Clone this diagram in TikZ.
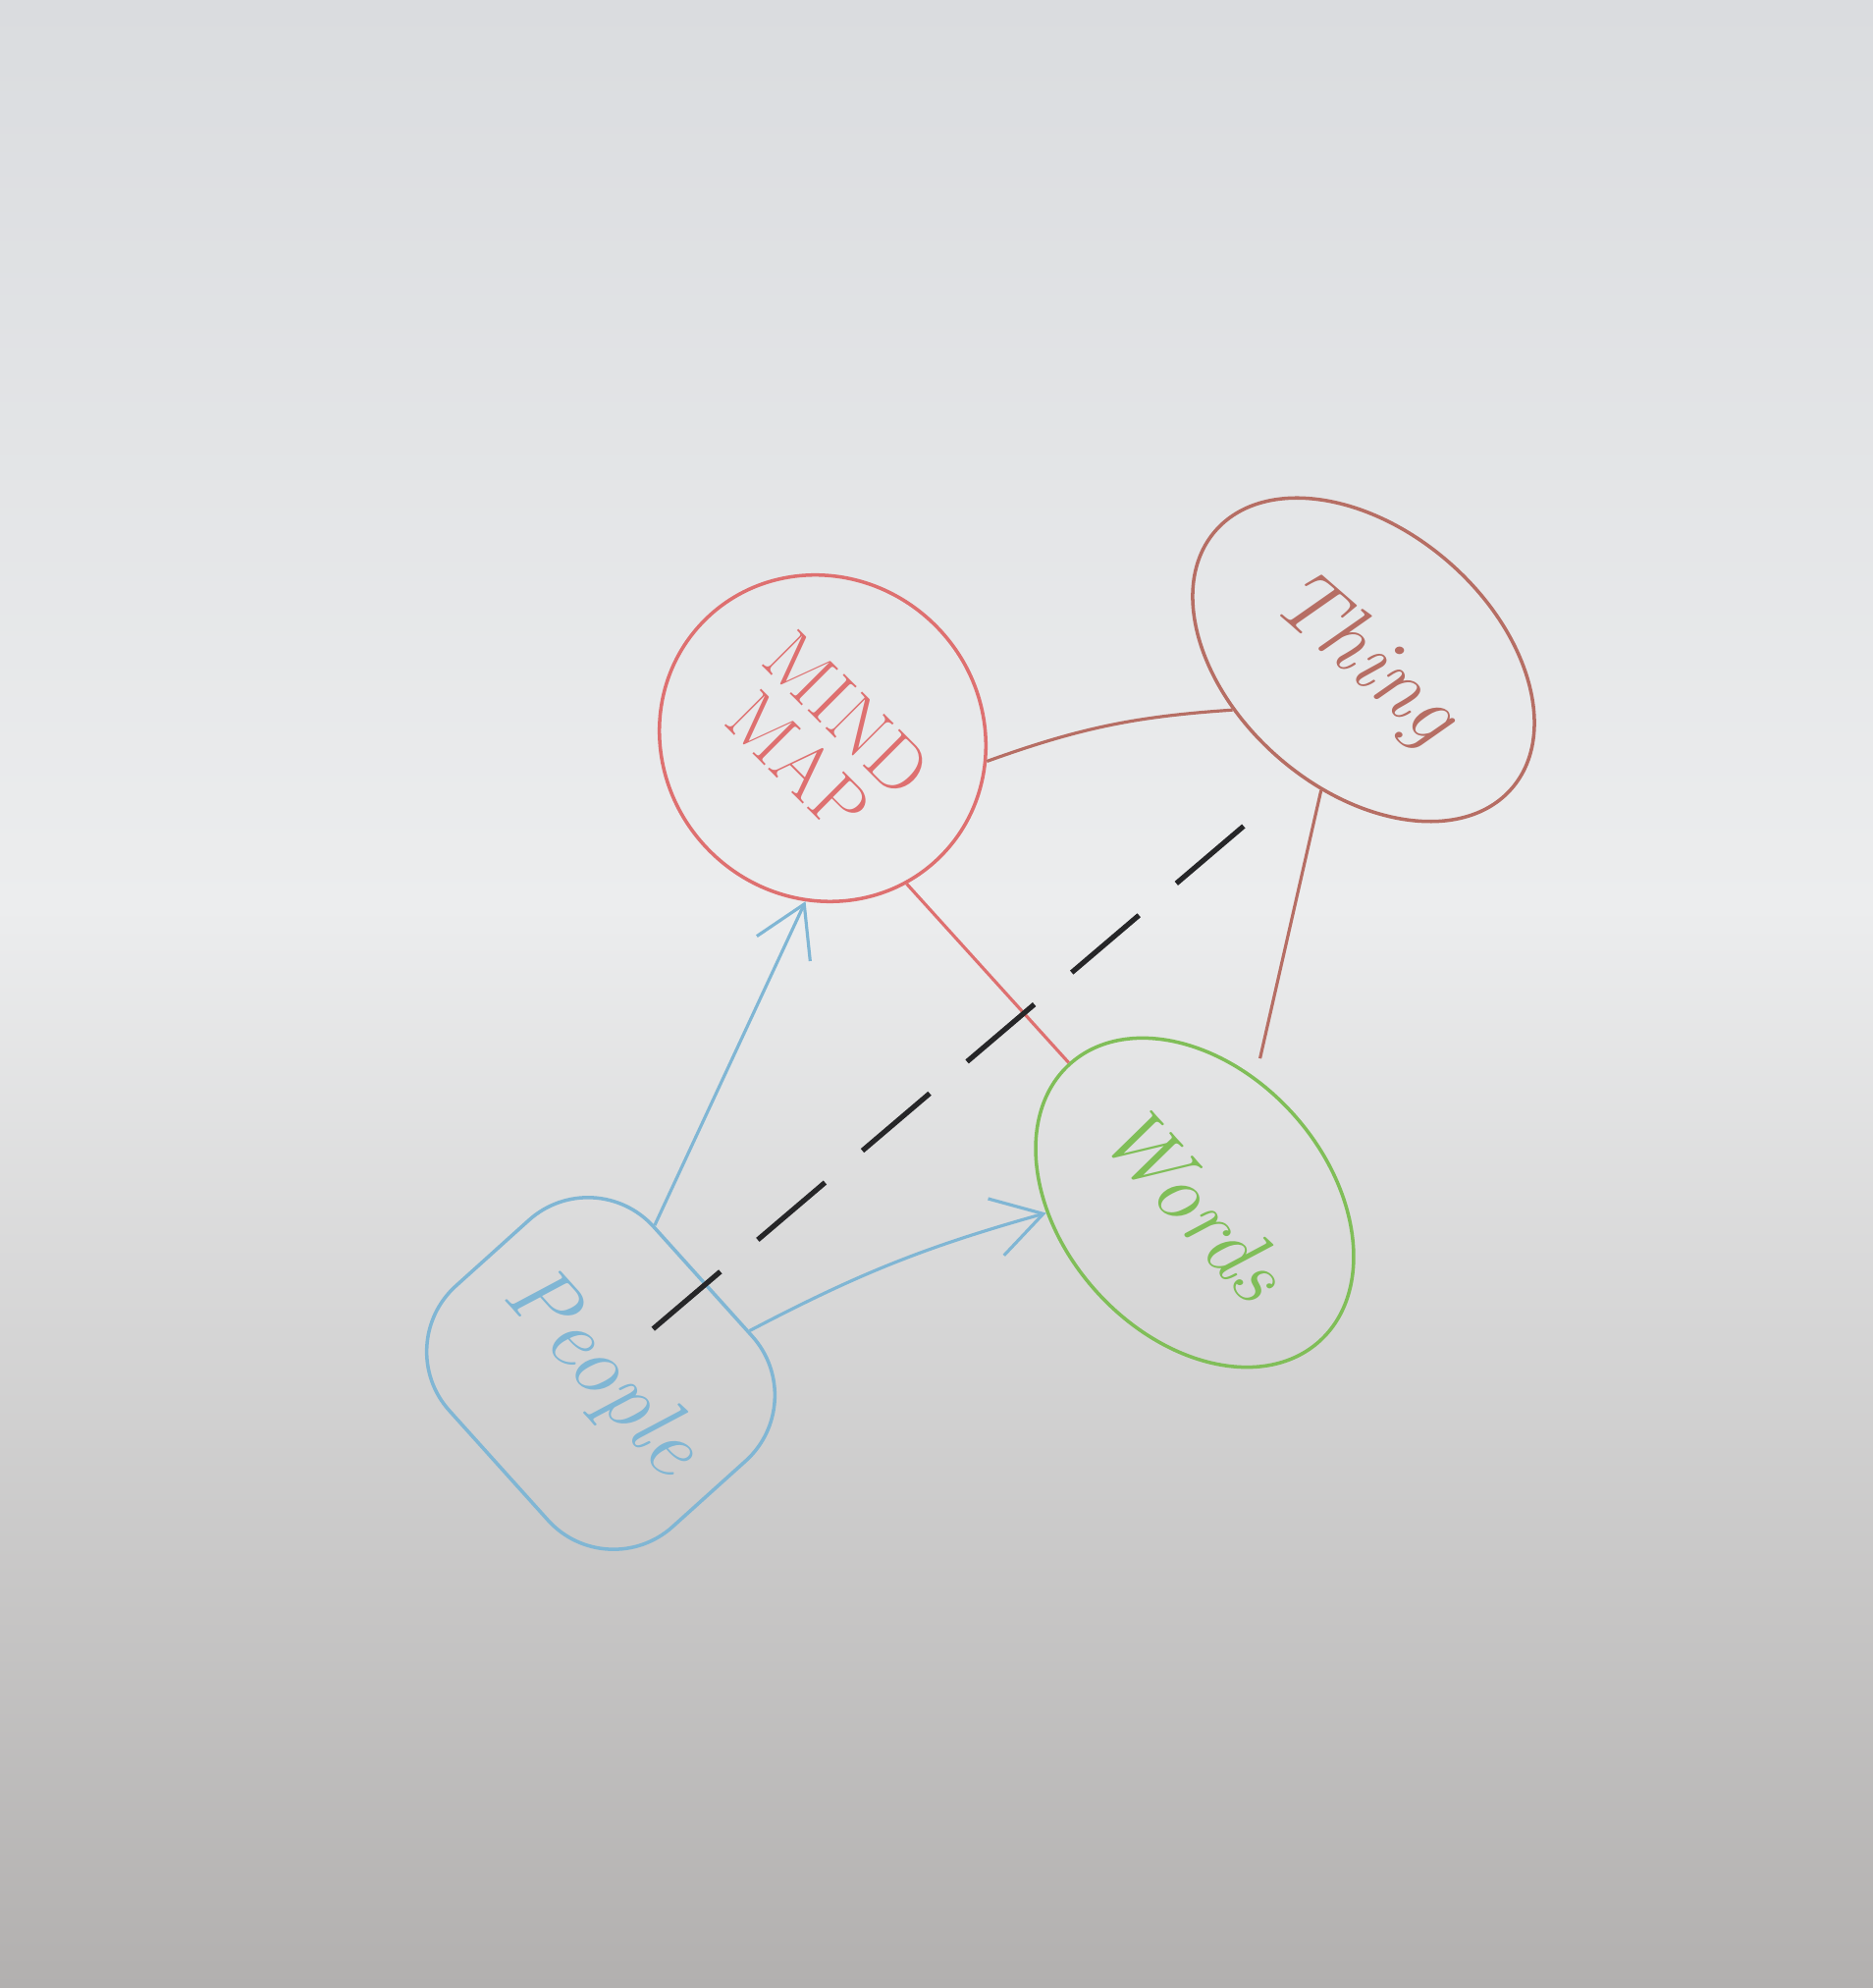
\documentclass[tikz,border=0pt]{standalone}
\usepackage{tikz}
\usetikzlibrary{shapes.geometric, arrows.meta}
\definecolor{paper}{RGB}{236,237,238}
\definecolor{papertop}{RGB}{218,220,223}
\definecolor{paperlow}{RGB}{178,176,175}
\definecolor{mindred}{RGB}{222,112,112}
\definecolor{thingred}{RGB}{182,110,100}
\definecolor{wordsgreen}{RGB}{128,190,88}
\definecolor{peopleblue}{RGB}{128,182,212}
\definecolor{pencil}{RGB}{38,38,40}

\begin{document}
\begin{tikzpicture}[auto]
\tikzstyle{bubble} = [ellipse, draw, line width=1pt, inner sep=0pt,
    text centered, font=\fontsize{25}{28}\selectfont\itshape]
\tikzstyle{line} = [draw, line width=0.9pt]
\tikzstyle{arrow} = [line, peopleblue, -{Straight Barb[length=5mm, width=6mm]}]
\tikzstyle{dashline} = [draw, pencil, line width=1.5pt, dash pattern=on 9mm off 5mm]

    \useasboundingbox (0,0) rectangle (19.08,20.25);
    \shade [top color=papertop, bottom color=paper] (0,11) rectangle (19.08,20.25);
    \shade [top color=paper, bottom color=paperlow] (0,0) rectangle (19.08,11.01);

    % Place nodes
    \node [bubble, mindred, minimum width=3.4cm, minimum height=3.25cm, rotate=-45,
        font=\fontsize{22}{20}\selectfont, align=center] (mind) at (8.38,12.73) {MIND\\MAP};
    \node [bubble, thingred, minimum width=4.0cm, minimum height=2.64cm, rotate=-41] (thing) at (13.89,13.53) {Thing};
    \node [bubble, wordsgreen, minimum width=3.8cm, minimum height=2.7cm, rotate=-48] (words) at (12.17,8.00) {Words};
    \node [draw, rectangle, rounded corners=9mm, peopleblue, line width=1pt, minimum width=3.3cm, minimum height=2.8cm,
        rotate=-48, font=\fontsize{26}{28}\selectfont\itshape] (people) at (6.12,6.26) {People};

%paths
    \path [line, thingred] (mind.37) to[bend left=8] (thing.242);
    \path [line, mindred] (mind.-15) -- (words.180);
    \path [line, thingred, shorten >=2mm] (thing.293) -- (words.112);
    \path [arrow] (people.118) -- (mind.-51);
    \path [arrow] (people.64) to[bend left=6] (words.232);
    \path [dashline, shorten <=7mm, shorten >=4.5mm] (people.center) -- (thing.283);

\end{tikzpicture}
\end{document}
